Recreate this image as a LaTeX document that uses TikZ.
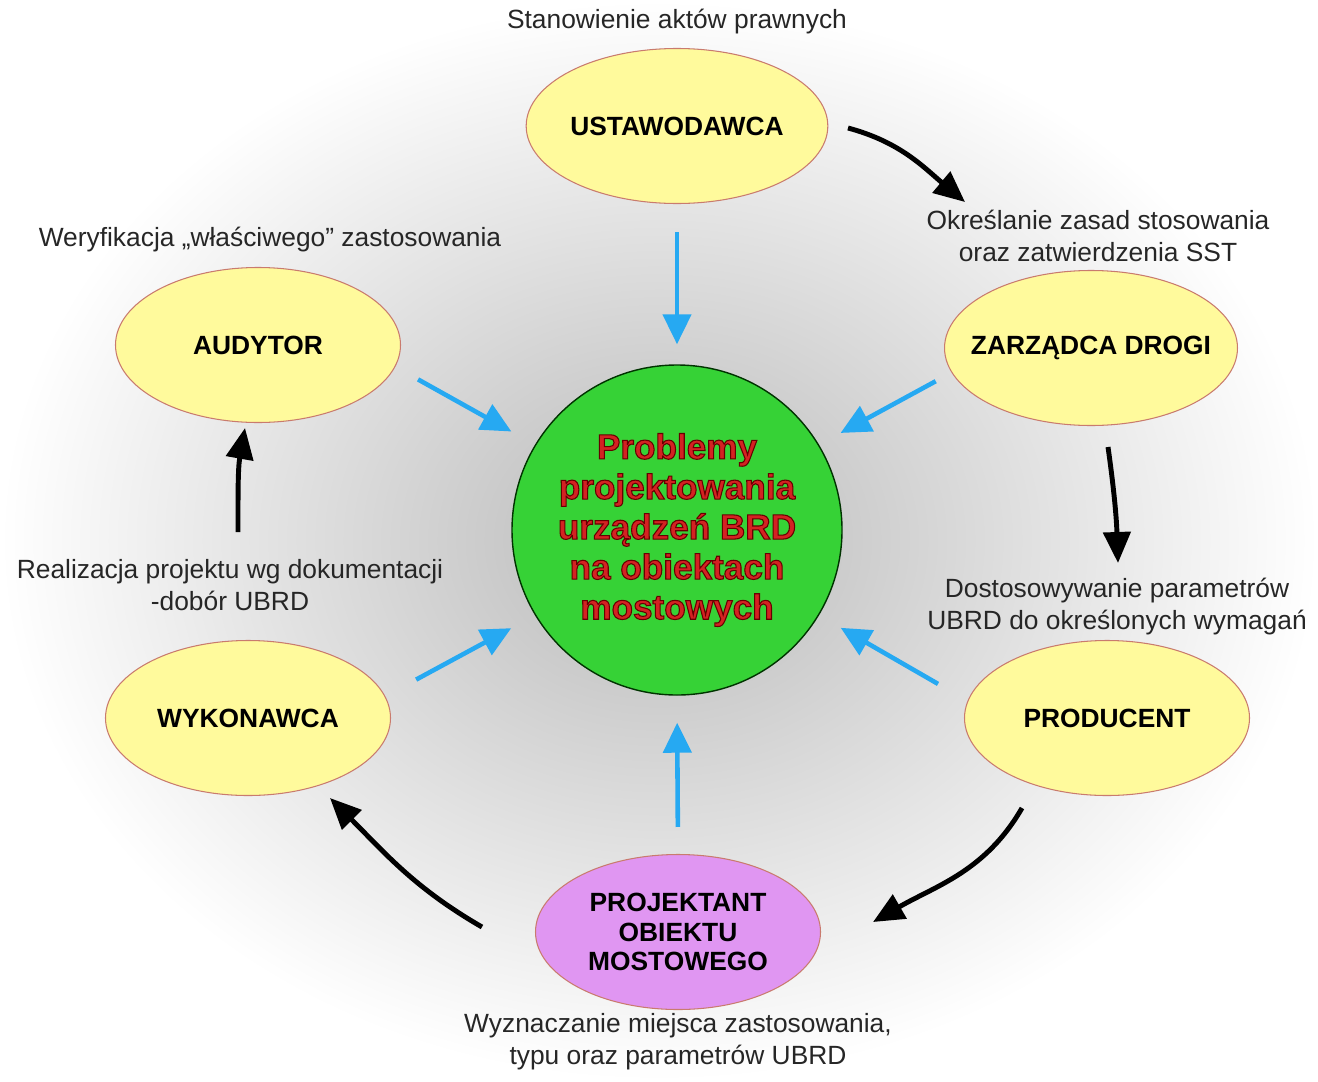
\documentclass[tikz,border=0pt]{standalone}
\usepackage{fontspec}
\setmainfont{Liberation Sans}
\usetikzlibrary{shapes.geometric, arrows.meta}
\definecolor{roleyellow}{HTML}{FFFA9C}
\definecolor{roleline}{HTML}{C97B6E}
\definecolor{designviolet}{HTML}{E096F2}
\definecolor{coregreen}{HTML}{36D236}
\definecolor{feedblue}{HTML}{26A9F2}
\definecolor{corered}{HTML}{D42222}
\newcommand{\outlined}[1]{\special{pdf:literal direct 2 Tr 0.6 w 0.4 0 0 RG}#1\special{pdf:literal direct 0 Tr}}
\tikzset{
    role/.style={ellipse, draw=roleline, line width=0.6pt, fill=roleyellow, minimum width=5.7cm, minimum height=3.1cm, inner sep=0pt, align=center, font=\fontsize{15}{17}\selectfont\bfseries},
    core/.style={circle, draw=black!80!green, line width=0.8pt, fill=coregreen, minimum size=6.6cm, inner sep=0pt, align=center, text=corered, font=\fontsize{20}{22.8}\selectfont\bfseries},
    note/.style={align=center, font=\fontsize{15}{18.2}\selectfont, text=black!85},
    feed/.style={-{Triangle[length=6mm, width=5.6mm]}, line width=2.6pt, draw=feedblue},
    flow/.style={-{Triangle[length=6.2mm, width=5.4mm]}, line width=2.8pt},
}

\begin{document}
\begin{tikzpicture}

% ── Background ──
\fill[shading=radial, inner color=gray!55, outer color=white] (0,0) rectangle (26.36,-21.62);
\useasboundingbox (0,0) rectangle (26.36,-21.62);

% ── Centre ──
\node[core] (core) at (13.54,-10.6) {\outlined{Problemy\\projektowania\\urządzeń BRD\\na obiektach\\mostowych}};

% ── Roles ──
\node[role, minimum width=5.5cm] (ustaw) at (13.54,-2.52) {USTAWODAWCA};
\node[role, inner xsep=-0.33cm] (zarz) at (21.82,-6.96) {ZARZĄDCA DROGI};
\node[role] (prod) at (22.14,-14.36) {PRODUCENT};
\node[role, fill=designviolet] (proj) at (13.56,-18.64) {PROJEKTANT\\OBIEKTU\\MOSTOWEGO};
\node[role] (wyk) at (4.96,-14.36) {WYKONAWCA};
\node[role] (aud) at (5.16,-6.9) {AUDYTOR};

% ── Notes ──
\node[note] (n1) at (13.54,-0.44) {Stanowienie aktów prawnych};
\node[note] (n2) at (21.96,-4.72) {Określanie zasad stosowania\\oraz zatwierdzenia SST};
\node[note] (n3) at (22.34,-12.14) {Dostosowywanie parametrów\\UBRD do określonych wymagań};
\node[note] (n4) at (13.56,-20.83) {Wyznaczanie miejsca zastosowania,\\typu oraz parametrów UBRD};
\node[note] (n5) at (4.6,-11.7) {Realizacja projektu wg dokumentacji\\-dobór UBRD};
\node[note] (n6) at (5.4,-4.8) {Weryfikacja „właściwego” zastosowania};

% ── Feeds into the centre ──
\draw[feed, shorten <=0.56cm, shorten >=0.4cm] (ustaw.south) -- (core.north);
\draw[feed, shorten <=0.36cm, shorten >=0.49cm] (zarz.190) -- (core.31);
\draw[feed, shorten <=0.68cm, shorten >=0.5cm] (prod.173) -- (core.-31);
\draw[feed, shorten <=0.54cm, shorten >=0.54cm] (proj.north) -- (core.south);
\draw[feed, shorten <=0.7cm, shorten >=0.54cm] (wyk.9) -- (core.-149);
\draw[feed, shorten <=0.52cm, shorten >=0.54cm] (aud.-9) -- (core.149);

% ── Cycle ──
\coordinate (c1a) at (16.96,-2.56);
\coordinate (c1b) at (19.3,-4.04);
\coordinate (c2a) at (22.16,-8.94);
\coordinate (c2b) at (22.36,-11.26);
\coordinate (c3a) at (20.44,-16.16);
\coordinate (c3b) at (17.46,-18.44);
\coordinate (c4a) at (9.64,-18.54);
\coordinate (c4b) at (6.6,-15.96);
\coordinate (c5a) at (4.76,-10.64);
\coordinate (c5b) at (4.9,-8.56);

\draw[flow] (c1a) to[out=-15, in=140] (c1b);
\draw[flow] (c2a) to[out=-82, in=92] (c2b);
\draw[flow] (c3a) to[out=-120, in=30] (c3b);
\draw[flow] (c4a) to[out=150, in=-45] (c4b);
\draw[flow] (c5a) to[out=90, in=-100] (c5b);

\end{tikzpicture}
\end{document}
